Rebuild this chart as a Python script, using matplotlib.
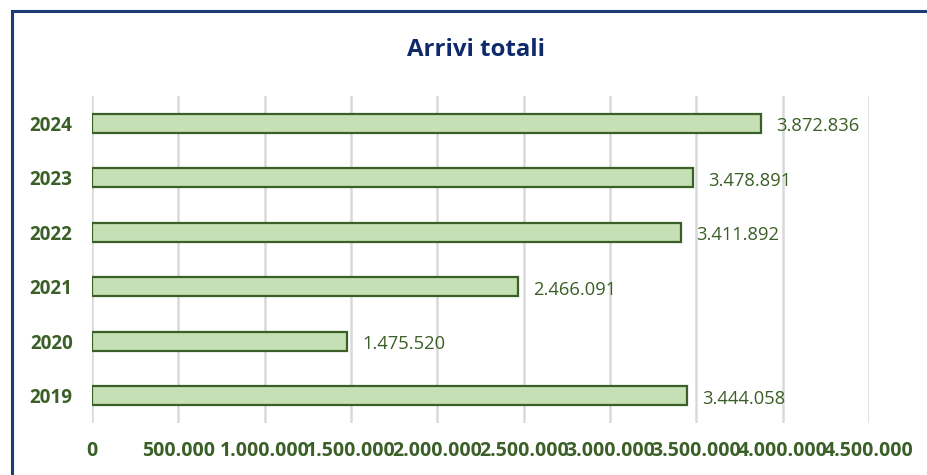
import matplotlib
matplotlib.use("Agg")
import matplotlib.pyplot as plt
from matplotlib.patches import Rectangle

# Data
anni = ["2019", "2020", "2021", "2022", "2023", "2024"]
arrivi = [3444058, 1475520, 2466091, 3411892, 3478891, 3872836]
x_ticks = [0, 500000, 1000000, 1500000, 2000000, 2500000, 3000000, 3500000, 4000000, 4500000]

verde_scuro = "#3A5F27"
verde_chiaro = "#C5E0B4"
blu = "#0E2A6B"

def fmt_it(v):
    return f"{v:,}".replace(",", ".")

plt.rcParams['font.family'] = ['Open Sans', 'DejaVu Sans']

fig = plt.figure(figsize=(9.28, 4.75), dpi=100)
ax = fig.add_axes([92 / 928, 1 - 423 / 475, (869 - 92) / 928, (423 - 96) / 475])

# border (only top and left visible)
fig.patches.append(Rectangle((12 / 928, -0.2), 1.2, 1.2 - 11 / 475, transform=fig.transFigure,
                             fill=False, edgecolor="#1F3A78", linewidth=2.2))

ypos = list(range(len(anni)))
ax.barh(ypos, arrivi, height=0.35, color=verde_chiaro, edgecolor=verde_scuro, linewidth=1.6, zorder=3)

for y, v in zip(ypos, arrivi):
    ax.annotate(fmt_it(v), (v, y), xytext=(11, -2), textcoords="offset points",
                va="center", ha="left", fontsize=13.2, color=verde_scuro)

ax.set_xlim(0, 4500000)
ax.set_ylim(-0.5, len(anni) - 0.5)
for t in x_ticks:
    ax.axvline(t, color="#D9D9D9", linewidth=1.8, zorder=1)

ax.set_xticks(x_ticks)
ax.set_xticklabels([fmt_it(t) for t in x_ticks], fontsize=14, fontweight="bold", color=verde_scuro)
ax.set_yticks(ypos)
ax.set_yticklabels(anni, fontsize=13.6, fontweight="bold", color=verde_scuro)
ax.tick_params(axis="x", length=0, pad=13)
ax.tick_params(axis="y", length=0, pad=14)
for s in ax.spines.values():
    s.set_visible(False)

fig.text(476 / 928, 1 - 50 / 475, "Arrivi totali", ha="center", va="center",
         fontsize=17.3, fontweight="bold", color=blu)

fig.savefig("out.png", dpi=100)
